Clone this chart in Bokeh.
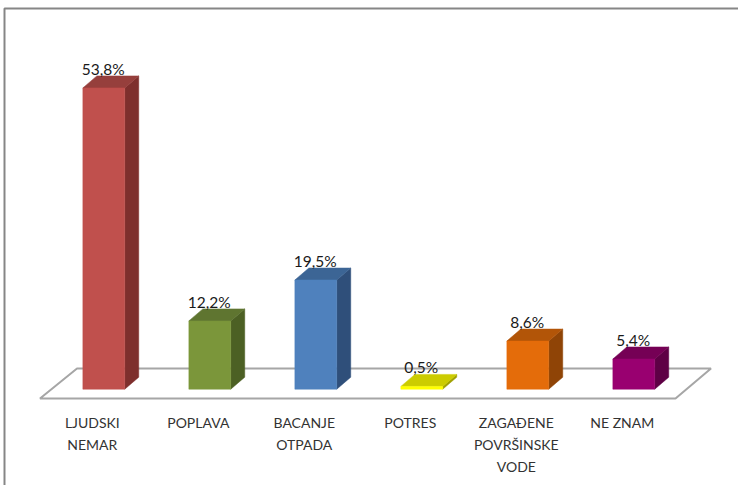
from bokeh.plotting import figure
from bokeh.models import Range1d
from bokeh.core.properties import value
from bokeh.embed import file_html
from bokeh.resources import INLINE

categories = ["LJUDSKI\nNEMAR", "POPLAVA", "BACANJE\nOTPADA", "POTRES", "ZAGAĐENE\nPOVRŠINSKE\nVODE", "NE ZNAM"]
values = [53.8, 12.2, 19.5, 0.5, 8.6, 5.4]
labels = ["53,8%", "12,2%", "19,5%", "0,5%", "8,6%", "5,4%"]
front_colors = ["#C0504D", "#7B963A", "#4F81BD", "#FFFF00", "#E46C0A", "#990070"]
top_colors = ["#963F3C", "#5F7530", "#3C6595", "#CCCC00", "#B25508", "#750055"]
side_colors = ["#7E2F2D", "#4C6024", "#2F4F7A", "#A0A000", "#8F4406", "#5E0045"]

W, H = 738, 485
XU, YU = 106.0, 5.6      # pixels per category step, pixels per percent
X0, Y0 = 103.3, 388.7    # pixel position of first category and of zero
BW = 0.395               # bar width in category steps
DX, DY = 14 / XU, 12 / YU  # 3D depth

p = figure(width=W, height=H, output_backend="svg", toolbar_location=None,
           x_range=Range1d(-X0 / XU, (W - X0) / XU),
           y_range=Range1d((Y0 - H) / YU, Y0 / YU),
           min_border=0, outline_line_color=None)
p.axis.visible = False
p.grid.visible = False
p.background_fill_color = "white"


def X(px):
    return (px - X0) / XU


def Y(py):
    return (Y0 - py) / YU


# chart frame (left and top edge only)
p.line([X(4), X(4), X(738)], [Y(485), Y(8), Y(8)], line_color="#868686", line_width=2)

# floor
p.patch([X(39.5), X(76.5), X(710.5), X(675)], [Y(398), Y(368), Y(368), Y(398)],
        fill_color="white", line_color="#A6A6A6", line_width=2)

idx = list(range(len(values)))
lefts = [i - BW / 2 for i in idx]
rights = [i + BW / 2 for i in idx]

p.patches([[r, r + DX, r + DX, r] for r in rights],
          [[0, DY, v + DY, v] for v in values],
          fill_color=side_colors, line_color=side_colors, line_width=0.5)
p.patches([[l, l + DX, r + DX, r] for l, r in zip(lefts, rights)],
          [[v, v + DY, v + DY, v] for v in values],
          fill_color=top_colors, line_color=top_colors, line_width=0.5)
p.quad(left=lefts, right=rights, bottom=[0] * len(values), top=values,
       fill_color=front_colors, line_color=front_colors, line_width=0.5)

# value labels
p.text(idx, [v + DY for v in values], text=labels, text_align="center",
       text_baseline="alphabetic", x_offset=-0.5, y_offset=-7, text_font=value("Lato"),
       text_font_size="15.5px", text_color="#1a1a1a")

# category labels
p.text(idx, [Y(413)] * len(idx), text=categories, text_align="center",
       text_baseline="top", x_offset=-11.5, text_font=value("Lato"),
       text_font_size="14px", text_color="#333333", text_line_height=1.31)

open("out.html", "w").write(file_html(p, INLINE))
